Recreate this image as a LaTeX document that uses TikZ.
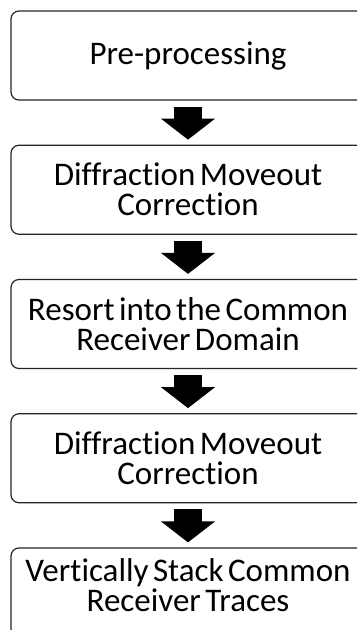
\documentclass[tikz,border=0pt]{standalone}
\usepackage{fontspec}
\setmainfont{Carlito}[Ligatures={NoCommon}, WordSpace={0.6,0.2,0.3}]
\usetikzlibrary{arrows.meta}
\tikzset{
  boxtext/.style={align=center, text=black, inner sep=0pt,
    font=\fontsize{33}{30}\selectfont},
  stepbox/.style={boxtext, draw=black!85, line width=1.2pt, rounded corners=8pt,
    minimum width=354pt, minimum height=89pt},
  blockarrow/.style={draw=black, line width=28pt,
    -{Triangle[width=53pt,length=21pt]}, shorten <=6pt, shorten >=5pt}
}
\begin{document}
\begin{tikzpicture}[x=1pt,y=1pt]
  \useasboundingbox (0,0) rectangle (357,-630);
  \clip (0,0) rectangle (357,-630);
  \node[stepbox] (b1) at (188,-55.5)  {Pre-processing};
  \node[stepbox] (b2) at (188,-189.75) {Diffraction Moveout\\Correction};
  \node[stepbox] (b3) at (188,-324)   {Resort into the Common\\Receiver Domain};
  \node[stepbox] (b4) at (188,-458.25) {Diffraction Moveout\\Correction};
  % last box runs past the lower edge; its text sits nearer the top
  \node[stepbox] (b5) at (188,-592.5) {};
  \node[boxtext] (t5) at ([yshift=7pt]b5.center) {Vertically Stack Common\\Receiver Traces};
  \draw[blockarrow] (b1.south) -- (b2.north);
  \draw[blockarrow] (b2.south) -- (b3.north);
  \draw[blockarrow] (b3.south) -- (b4.north);
  \draw[blockarrow] (b4.south) -- (b5.north);
\end{tikzpicture}
\end{document}
